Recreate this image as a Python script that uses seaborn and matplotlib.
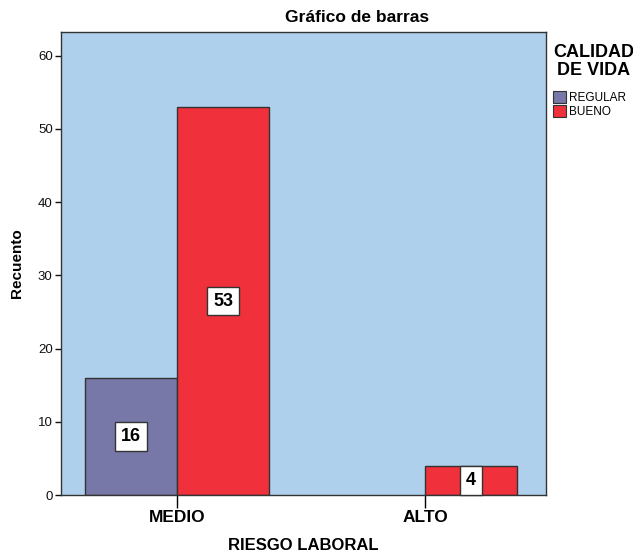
import numpy as np
import pandas as pd
import matplotlib.pyplot as plt
import seaborn as sns
from matplotlib.patches import Patch

# ==========================================
# DATA
# ==========================================
riesgo = ["MEDIO", "MEDIO", "ALTO"]
calidad = ["REGULAR", "BUENO", "BUENO"]
recuento = [16, 53, 4]

riesgo_order = ["MEDIO", "ALTO"]
calidad_order = ["REGULAR", "BUENO"]
colores = ["#7878a8", "#f0303a"]
yticks = [0, 10, 20, 30, 40, 50, 60]

df = pd.DataFrame({"riesgo": riesgo, "calidad": calidad, "n": recuento})

# ==========================================
# STYLE
# ==========================================
sns.set_style("ticks")
plt.rcParams['font.family'] = ['Liberation Sans', 'DejaVu Sans']
plt.rcParams['text.color'] = 'black'

fig = plt.figure(figsize=(6.33, 5.59), dpi=100)
ax = fig.add_axes([61/633, 1 - 495/559, (546 - 61)/633, (495 - 32)/559])
ax.set_facecolor("#aed0ec")

sns.barplot(data=df, x="riesgo", y="n", hue="calidad", order=riesgo_order,
            hue_order=calidad_order, palette=colores, width=0.742,
            edgecolor="#333333", linewidth=1, saturation=1, ax=ax, legend=False)

# value labels in white boxes
for cont in ax.containers:
    ax.bar_label(cont, label_type="center", fontsize=13, fontweight="bold",
                 color="black",
                 bbox=dict(boxstyle="square,pad=0.32", facecolor="white",
                           edgecolor="#333333", linewidth=1))

ax.set_xlim(-0.468, 1.488)
ax.set_ylim(0, 63.25)
ax.set_yticks(yticks)
ax.tick_params(axis="y", direction="out", length=4, width=1, pad=2,
               labelsize=9.5, colors="#111111")
ax.tick_params(axis="x", direction="out", length=9, width=1, pad=2,
               labelsize=12.5, colors="black")
for lbl in ax.get_xticklabels():
    lbl.set_fontweight("bold")
for s in ax.spines.values():
    s.set_visible(True)
    s.set_color("#333333")
    s.set_linewidth(1)

ax.set_xlabel("RIESGO LABORAL", fontsize=12, fontweight="bold", labelpad=9,
              color="black")
ax.set_ylabel("Recuento", fontsize=11, fontweight="bold", labelpad=10,
              color="black")

fig.text(357/633, 1 - 22/559, "Gráfico de barras", fontsize=12.5,
         fontweight="bold", ha="center", va="baseline", color="black")

handles = [Patch(facecolor=c, edgecolor="#333333", linewidth=0.8) for c in colores]
leg = fig.legend(handles, calidad_order, title="CALIDAD\nDE VIDA",
                 loc="upper left", bbox_to_anchor=(545/633, 1 - 36/559),
                 frameon=False, fontsize=8.5, handlelength=1.1, handleheight=1.1,
                 handletextpad=0.2, labelspacing=0.1, borderpad=0.2,
                 labelcolor="black",
                 title_fontproperties={"weight": "bold", "size": 13})
leg._legend_box.align = "left"
leg._legend_box.sep = 9
leg.get_title().set_multialignment("center")
leg.get_title().set_linespacing(1.05)
leg.get_title().set_color("black")

fig.savefig("out.png", dpi=100)
